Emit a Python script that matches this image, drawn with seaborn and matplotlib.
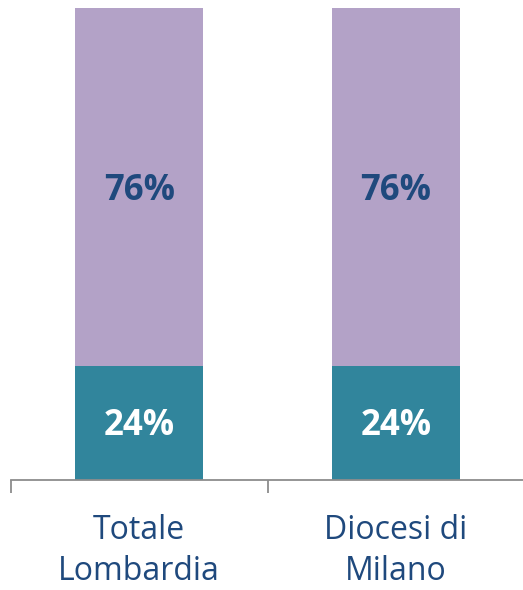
import matplotlib
matplotlib.use("Agg")
import matplotlib.pyplot as plt
import seaborn as sns
import pandas as pd
from matplotlib.ticker import FixedLocator

categories = ["Totale\nLombardia", "Diocesi di\nMilano"]
bottom_share = [24, 24]   # teal segment
top_share = [76, 76]      # purple segment
bottom_labels = ["24%", "24%"]
top_labels = ["76%", "76%"]

TEAL = "#31859C"
LILAC = "#B3A2C7"
NAVY = "#1F497D"
AXIS_GREY = "#8C8C8C"

sns.set_theme(style="white")
plt.rcParams["font.family"] = ["Open Sans", "DejaVu Sans"]

df = pd.DataFrame({
    "cat": categories,
    "bottom": bottom_share,
    "total": [b + t for b, t in zip(bottom_share, top_share)],
})

fig = plt.figure(figsize=(5.23, 5.9), dpi=100)
ax = fig.add_axes([11 / 523, (590 - 479.5) / 590, 513 / 523, (479.5 - 8) / 590])

sns.barplot(data=df, x="cat", y="total", color=LILAC, saturation=1,
            width=0.5, ax=ax, linewidth=0)
sns.barplot(data=df, x="cat", y="bottom", color=TEAL, saturation=1,
            width=0.5, ax=ax, linewidth=0)

for i in range(len(categories)):
    b = bottom_share[i]
    t = top_share[i]
    ax.annotate(bottom_labels[i], (i, b / 2), xytext=(0, -3),
                textcoords="offset pixels", ha="center", va="center",
                color="white", fontsize=25, fontweight="bold")
    ax.annotate(top_labels[i], (i, b + t / 2), xytext=(0, -4),
                textcoords="offset pixels", ha="center", va="center",
                color=NAVY, fontsize=25, fontweight="bold")

ax.set_xlim(-0.5, 1.5)
ax.set_ylim(0, 100)
ax.set_xlabel("")
ax.set_ylabel("")
ax.set_yticks([])

# category boundary ticks, labels centred under each bar
ax.xaxis.set_major_locator(FixedLocator([-0.5, 0.5, 1.5]))
ax.xaxis.set_minor_locator(FixedLocator([0, 1]))
ax.set_xticklabels([])
ax.set_xticklabels(categories, minor=True)
ax.tick_params(axis="x", which="major", length=9, width=1.3,
               color=AXIS_GREY, direction="out", bottom=True)
ax.tick_params(axis="x", which="minor", length=0, pad=25,
               labelsize=23, labelcolor=NAVY)
for lbl in ax.get_xticklabels(minor=True):
    lbl.set_linespacing(1.3)

for side in ["top", "right", "left"]:
    ax.spines[side].set_visible(False)
ax.spines["bottom"].set_color(AXIS_GREY)
ax.spines["bottom"].set_linewidth(1.3)
ax.set_facecolor("white")
fig.patch.set_facecolor("white")

fig.savefig("out.png", dpi=100, facecolor="white")
